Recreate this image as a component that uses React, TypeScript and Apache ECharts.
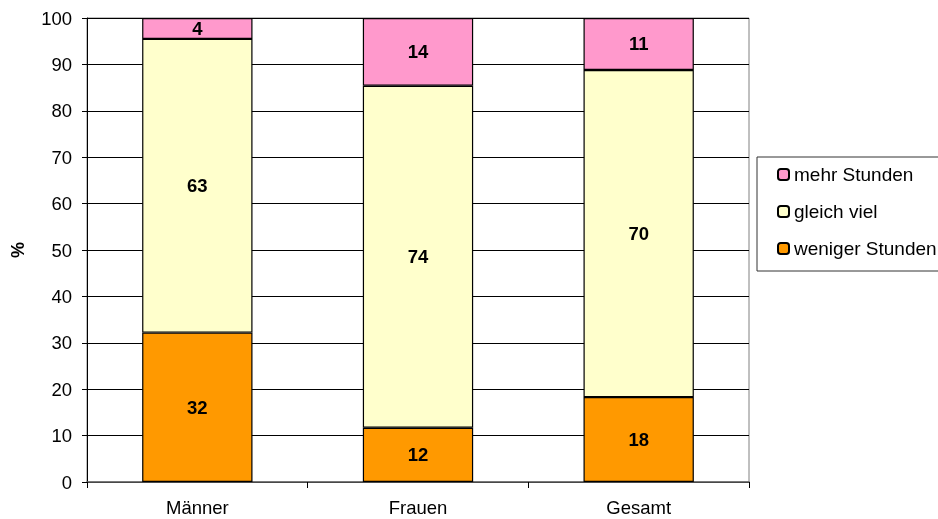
import React, { useEffect, useRef } from "react";
import * as echarts from "echarts";

const categories = ["Männer", "Frauen", "Gesamt"];
const seriesNames = ["weniger Stunden", "gleich viel", "mehr Stunden"];
const wenigerValues = [32.2, 11.7, 18.3];
const gleichValues = [63.3, 73.7, 70.5];
const mehrValues = [4.5, 14.6, 11.2];
const wenigerLabels = ["32", "12", "18"];
const gleichLabels = ["63", "74", "70"];
const mehrLabels = ["4", "14", "11"];
const yTicks = { min: 0, max: 100, interval: 10 };

const colors = ["#FF9900", "#FFFFCC", "#FF99CC"];
const FONT = "Arial, 'Liberation Sans', sans-serif";

export default function App() {
  const ref = useRef<HTMLDivElement>(null);
  useEffect(() => {
    if (!ref.current) return;
    const chart = echarts.init(ref.current, null, { renderer: "svg" });
    const values = [wenigerValues, gleichValues, mehrValues];
    const labels = [wenigerLabels, gleichLabels, mehrLabels];
    chart.setOption({
      animation: false,
      textStyle: { fontFamily: FONT },
      grid: {
        left: 87,
        right: 189,
        top: 18,
        bottom: 37,
        containLabel: false,
        outerBoundsMode: "none",
        show: true,
        borderColor: "#808080",
        borderWidth: 1,
        backgroundColor: "#FFFFFF",
      },
      legend: {
        orient: "vertical",
        left: 757,
        top: 157,
        data: ["mehr Stunden", "gleich viel", "weniger Stunden"],
        itemWidth: 11,
        itemHeight: 11,
        itemGap: 18,
        padding: [8, 12, 13, 20],
        borderColor: "#333333",
        borderWidth: 1,
        backgroundColor: "#FFFFFF",
        textStyle: { fontSize: 19, color: "#000", fontFamily: FONT },
      },
      xAxis: {
        type: "category",
        data: categories,
        axisLine: { show: true, lineStyle: { color: "#606060", width: 1.5 } },
        axisTick: { show: true, length: 6, lineStyle: { color: "#000" } },
        axisLabel: { fontSize: 18.5, color: "#000", margin: 16, fontFamily: FONT },
      },
      yAxis: {
        type: "value",
        min: yTicks.min,
        max: yTicks.max,
        interval: yTicks.interval,
        name: "%",
        nameLocation: "middle",
        nameGap: 60,
        nameTextStyle: { fontSize: 18, fontWeight: "bold", color: "#000", fontFamily: FONT },
        axisLine: { show: true, lineStyle: { color: "#000", width: 1 } },
        axisTick: { show: true, length: 5, lineStyle: { color: "#000" } },
        axisLabel: { fontSize: 18.5, color: "#000", margin: 15, fontFamily: FONT },
        splitLine: { show: true, lineStyle: { color: "#000", width: 1 } },
      },
      series: seriesNames.map((name, i) => ({
        name,
        type: "bar",
        stack: "total",
        barWidth: "50%",
        data: values[i],
        itemStyle: { color: colors[i], borderColor: "#000", borderWidth: 1.2 },
        label: {
          show: true,
          position: "inside",
          fontSize: 18.5,
          fontWeight: "bold",
          color: "#000",
          fontFamily: FONT,
          formatter: (p: any) => labels[i][p.dataIndex],
        },
      })),
    });
    return () => chart.dispose();
  }, []);
  return (
    <div
      ref={ref}
      style={{ position: "fixed", left: 0, top: 0, width: 938, height: 519 }}
    />
  );
}
